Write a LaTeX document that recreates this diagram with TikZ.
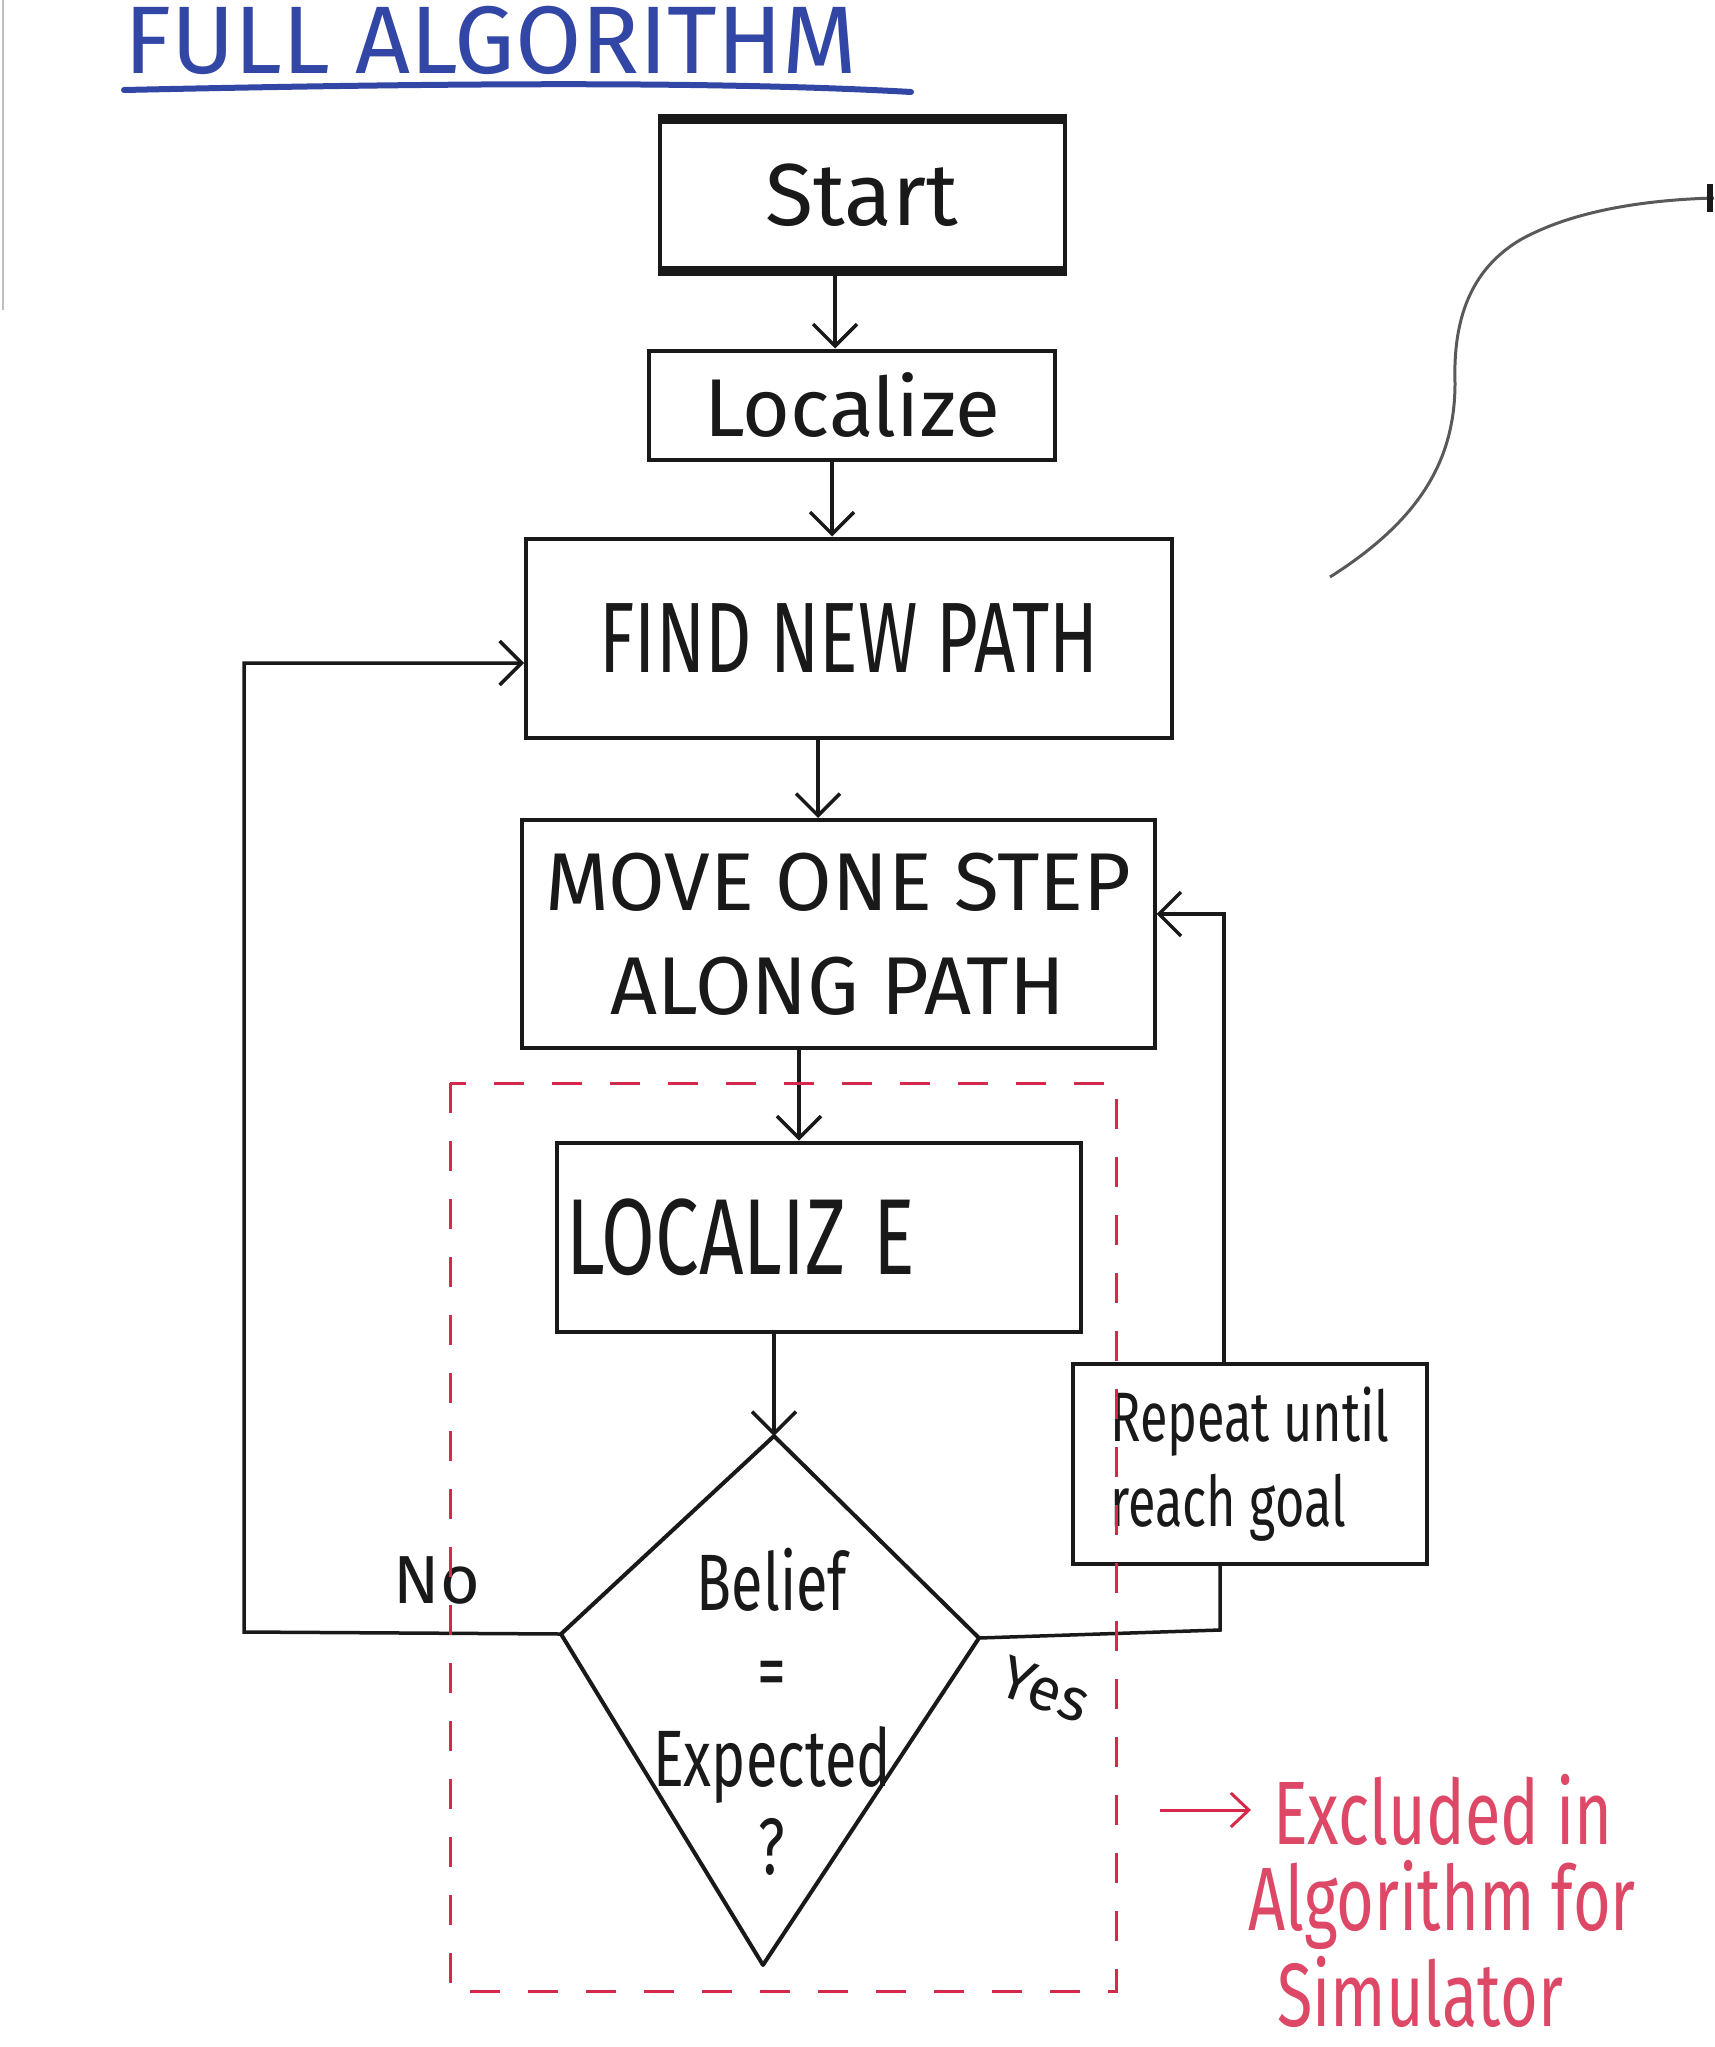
\documentclass[tikz,border=0pt]{standalone}
\usepackage{fontspec}
\setmainfont{Fira Sans}
\newfontfamily\handN{Fira Sans}
\newfontfamily\handC[FakeStretch=0.72]{Fira Sans}
\newcommand\myfs[2]{\fontsize{#1}{#2}\selectfont}
\usetikzlibrary{arrows.meta,calc}
\definecolor{ink}{RGB}{25,25,25}
\definecolor{bluink}{RGB}{50,70,165}
\definecolor{redink}{RGB}{215,40,75}
\tikzset{
  stepbox/.style={draw=ink, line width=4pt, inner sep=0pt, align=center, text=ink},
  conn/.style={draw=ink, line width=3.5pt, -{Straight Barb[length=22pt,width=44pt]}},
  plainln/.style={draw=ink, line width=3.5pt},
  reddash/.style={draw=redink, line width=3pt, dash pattern=on 30pt off 28pt},
  redtxt/.style={text=redink!85, font=\handC\myfs{90}{100}, inner sep=0pt},
  lbl/.style={text=ink, inner sep=0pt},
}
\begin{document}
\begin{tikzpicture}[x=1pt,y=-1pt]
\useasboundingbox (0,0) rectangle (1714,2047);
\fill[white] (0,0) rectangle (1714,2047);
\draw[gray!50, line width=2pt] (3,0) -- (3,310);

% title
\node[anchor=base west, text=bluink, inner sep=0pt, font=\handN\myfs{96}{100}] (title) at (124,74) {FULL ALGORITHM};
\draw[bluink, line width=6pt, line cap=round] (124,90) .. controls (400,84) and (700,80) .. (911,92);

% boxes
\node[stepbox, minimum width=405pt, minimum height=147pt, font=\handN\myfs{88}{100}] (start) at (862,195) {Start};
\draw[ink, line width=10pt] (start.north west) -- (start.north east);
\draw[ink, line width=10pt] (start.south west) -- (start.south east);
\node[stepbox, minimum width=406pt, minimum height=109pt, font=\handN\myfs{82}{90}] (loc) at (852,405) {Localize};
\node[stepbox, minimum width=646pt, minimum height=199pt, font=\handC\myfs{100}{110}] (find) at (849,638) {FIND NEW PATH};
\node[stepbox, minimum width=633pt, minimum height=228pt, font=\handN\myfs{82}{104}] (move) at (838,934) {MOVE ONE STEP\\ALONG PATH};
\node[stepbox, minimum width=524pt, minimum height=189pt, text width=505pt, align=left, font=\handC\myfs{108}{110}] (loce) at (819,1237) {LOCALIZ\kern28pt E};
\node[stepbox, minimum width=354pt, minimum height=200pt, align=left, font=\handC\myfs{70}{85}] (rep) at (1250,1464) {Repeat until\\reach goal};

% decision
\coordinate (dtop) at (774,1436);
\coordinate (dleft) at (561,1634);
\coordinate (dright) at (979,1638);
\coordinate (dbot) at (763,1965);
\draw[ink, line width=4pt, line join=round] (dtop) -- (dright) -- (dbot) -- (dleft) -- cycle;
\node[lbl, align=center, font=\handC\myfs{80}{88}] (dtext) at (772,1712) {Belief\\=\\Expected\\?};

% connectors
\draw[conn] ([xshift=-27pt]start.south) -- ([xshift=-17pt]loc.north);
\draw[conn] ([xshift=-20pt]loc.south) -- ([xshift=-17pt]find.north);
\draw[conn] ([xshift=-31pt]find.south) -- ([xshift=-20pt]move.north);
\draw[conn] ([xshift=-39pt]move.south) -- ([xshift=-20pt]loce.north);
\draw[conn] (loce.south -| dtop) -- (dtop);
\draw[conn] (dleft) -- (244,1632) |- ([yshift=-25pt]find.west);
\draw[plainln] (dright) -- (1220,1630) -- ([xshift=-30pt]rep.south);
\draw[conn] ([xshift=-26pt]rep.north) |- ([yshift=20pt]move.east);

\node[lbl, font=\handN\myfs{68}{70}] (nolbl) at (437,1580) {No};
\node[lbl, rotate=-20, font=\handN\myfs{60}{70}] (yeslbl) at (1045,1690) {Yes};

% excluded region
\draw[reddash] (450,1083) rectangle (1116,1991);
\node[redtxt, anchor=west] (ex1) at (1273,1810) {Excluded in};
\node[redtxt, anchor=base] (ex2) at (1442,1930) {Algorithm for};
\node[redtxt, anchor=base] (ex3) at (1420,2026) {Simulator};
\coordinate (redtail) at (1160,1810);
\draw[redink, line width=3pt, -{Straight Barb[length=18pt,width=34pt]}] (redtail) -- ([xshift=-22pt]ex1.west);

% curve at right
\draw[gray!70!black, line width=3pt] (1330,577) .. controls (1420,520) and (1455,460) .. (1455,383) .. controls (1453,320) and (1470,270) .. (1520,240) .. controls (1570,212) and (1640,200) .. (1714,198);
\draw[ink, line width=6pt] (1710,184) -- (1710,212);
\end{tikzpicture}
\end{document}
